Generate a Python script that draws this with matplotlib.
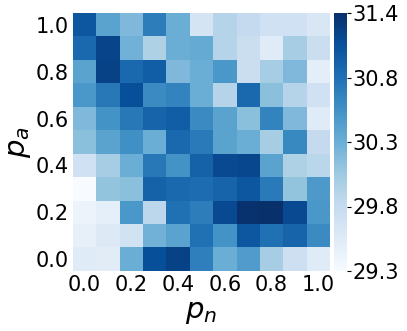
import numpy as np
import matplotlib
matplotlib.use("Agg")
import matplotlib.pyplot as plt

p_n = [0.0, 0.1, 0.2, 0.3, 0.4, 0.5, 0.6, 0.7, 0.8, 0.9, 1.0]
p_a = [1.0, 0.9, 0.8, 0.7, 0.6, 0.5, 0.4, 0.3, 0.2, 0.1, 0.0]  # rows, top to bottom

row_10 = [31.05, 30.42, 30.22, 30.74, 30.32, 29.65, 29.90, 29.80, 29.70, 29.70, 29.59]
row_09 = [30.90, 31.19, 30.28, 29.95, 30.32, 30.36, 29.90, 29.74, 29.53, 30.01, 29.74]
row_08 = [30.42, 31.21, 30.90, 30.99, 30.22, 30.32, 30.53, 29.74, 30.01, 30.22, 29.49]
row_07 = [30.53, 30.78, 31.11, 30.63, 30.69, 30.32, 29.90, 30.90, 30.15, 29.90, 29.70]
row_06 = [30.22, 30.57, 30.78, 30.94, 30.99, 30.63, 30.42, 30.15, 30.69, 30.22, 29.53]
row_05 = [30.15, 30.42, 30.59, 30.32, 30.90, 30.76, 30.42, 30.32, 30.01, 30.65, 29.80]
row_04 = [29.70, 30.01, 30.32, 30.78, 30.57, 30.96, 31.15, 31.17, 30.42, 29.95, 29.88]
row_03 = [29.28, 30.11, 30.15, 30.96, 30.90, 30.88, 30.94, 31.05, 30.76, 30.11, 30.51]
row_02 = [29.40, 29.47, 30.53, 29.86, 30.84, 30.74, 31.15, 31.34, 31.36, 31.15, 30.53]
row_01 = [29.45, 29.55, 29.68, 30.28, 30.42, 30.84, 30.57, 31.05, 30.84, 30.94, 30.63]
row_00 = [29.53, 29.51, 30.32, 31.11, 31.21, 30.72, 30.32, 30.49, 30.01, 29.72, 29.53]

values = np.array([row_10, row_09, row_08, row_07, row_06, row_05,
                   row_04, row_03, row_02, row_01, row_00])
vmin, vmax = values.min(), values.max()

fig = plt.figure(figsize=(4.07, 3.31), dpi=100)
ax = fig.add_axes([73 / 407, 60 / 331, 257 / 407, 258 / 331])
cax = fig.add_axes([334 / 407, 60 / 331, 13 / 407, 258 / 331])

im = ax.imshow(values, cmap="Blues", vmin=vmin, vmax=vmax, aspect="auto",
               interpolation="nearest")
for s in ax.spines.values():
    s.set_visible(False)

ax.set_xticks(range(0, len(p_n), 2))
ax.set_xticklabels([f"{v:.1f}" for v in p_n[::2]])
ax.set_yticks(range(0, len(p_a), 2))
ax.set_yticklabels([f"{v:.1f}" for v in p_a[::2]])
ax.tick_params(length=0, labelsize=15, pad=3)
ax.set_xlabel("$p_n$", fontsize=21, labelpad=2)
ax.set_ylabel("$p_a$", fontsize=21, labelpad=2)

cb = fig.colorbar(im, cax=cax)
cb.outline.set_visible(False)
ticks = np.linspace(vmin, vmax, 5)
cb.set_ticks(ticks)
cb.set_ticklabels([f"{t:.1f}" for t in ticks])
cax.tick_params(labelsize=15, length=3, width=0.8, pad=1)

fig.savefig("out.png", dpi=100)
